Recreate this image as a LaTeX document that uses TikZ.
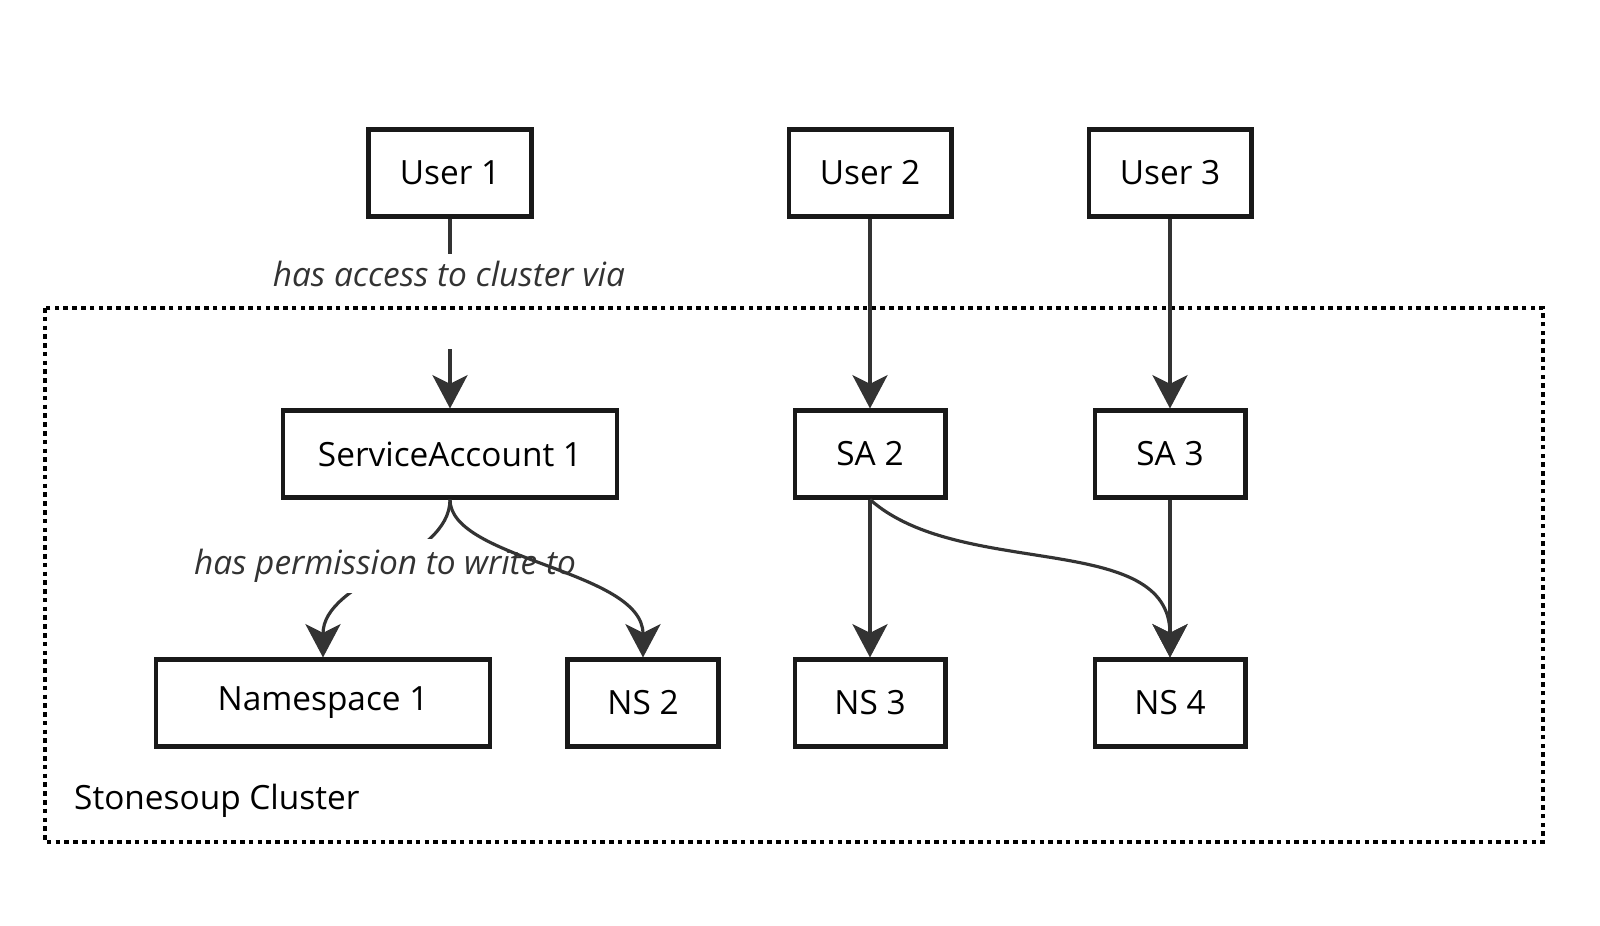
\documentclass[tikz,border=0pt]{standalone}
\usepackage{fontspec}
\setmainfont{Open Sans}
\usetikzlibrary{arrows.meta, positioning}
\tikzset{>={Stealth[length=19pt,width=20pt,inset=5pt]}}

\begin{document}
\begin{tikzpicture}[x=0.02cm, y=-0.02cm, font=\fontsize{19pt}{23pt}\selectfont,
        box/.style={draw=black!90, line width=2.3pt, minimum height=1.74cm, inner sep=0pt},
        link/.style={draw=black!80, line width=1.8pt},
        lbl/.style={font=\fontsize{19pt}{23pt}\selectfont\itshape, text=black!80}]
        \useasboundingbox (0,0) rectangle (1600,926);

        % cluster frame
        \draw[line width=2.6pt, dash pattern=on 2.6pt off 2.4pt] (45,308) rectangle (1543,842);
        \node[anchor=west] (cluster) at (68,801) {Stonesoup Cluster};

        \node[box, minimum width=3.26cm] (user1) at (450,173) {User 1};
        \node[box, minimum width=3.26cm] (user2) at (870,173) {User 2};
        \node[box, minimum width=3.26cm] (user3) at (1170,173) {User 3};

        \node[box, minimum width=6.68cm] (sa1) at (450,454) {ServiceAccount 1};
        \node[box, minimum width=3.02cm] (sa2) at (870,454) {SA 2};
        \node[box, minimum width=3.02cm] (sa3) at (1170,454) {SA 3};

        \node[box, minimum width=6.7cm] (ns1) at (323,703) {Namespace 1};
        \foreach \n/\x in {2/643, 3/870, 4/1170}
        \node[box, minimum width=3.02cm] (ns\n) at (\x,703) {NS \n};

        % user 1 goes in through a label
        \coordinate (acctop) at (450,254);
        \coordinate (accbot) at (450,349);
        \draw[link] (user1) -- (acctop);
        \node[lbl] (access) at (449,274) {has access to cluster via};
        \draw[link,->] (accbot) -- (sa1);

        \foreach \a/\b in {user2/sa2, user3/sa3, sa2/ns3, sa3/ns4}
        \draw[link,->] (\a) -- (\b);

        \draw[link,->] (sa1.south) .. controls (450,560) and (323,580) .. (ns1.north);
        \node[lbl, fill=white, minimum height=1.08cm, inner xsep=0pt] (perm) at (385,566) {has permission to write to};
        \draw[link,->] (sa1.south) .. controls (450,560) and (643,570) .. (ns2.north);
        \draw[link,->] (sa2.south) .. controls (960,580) and (1170,530) .. (ns4.north);
\end{tikzpicture}
\end{document}
